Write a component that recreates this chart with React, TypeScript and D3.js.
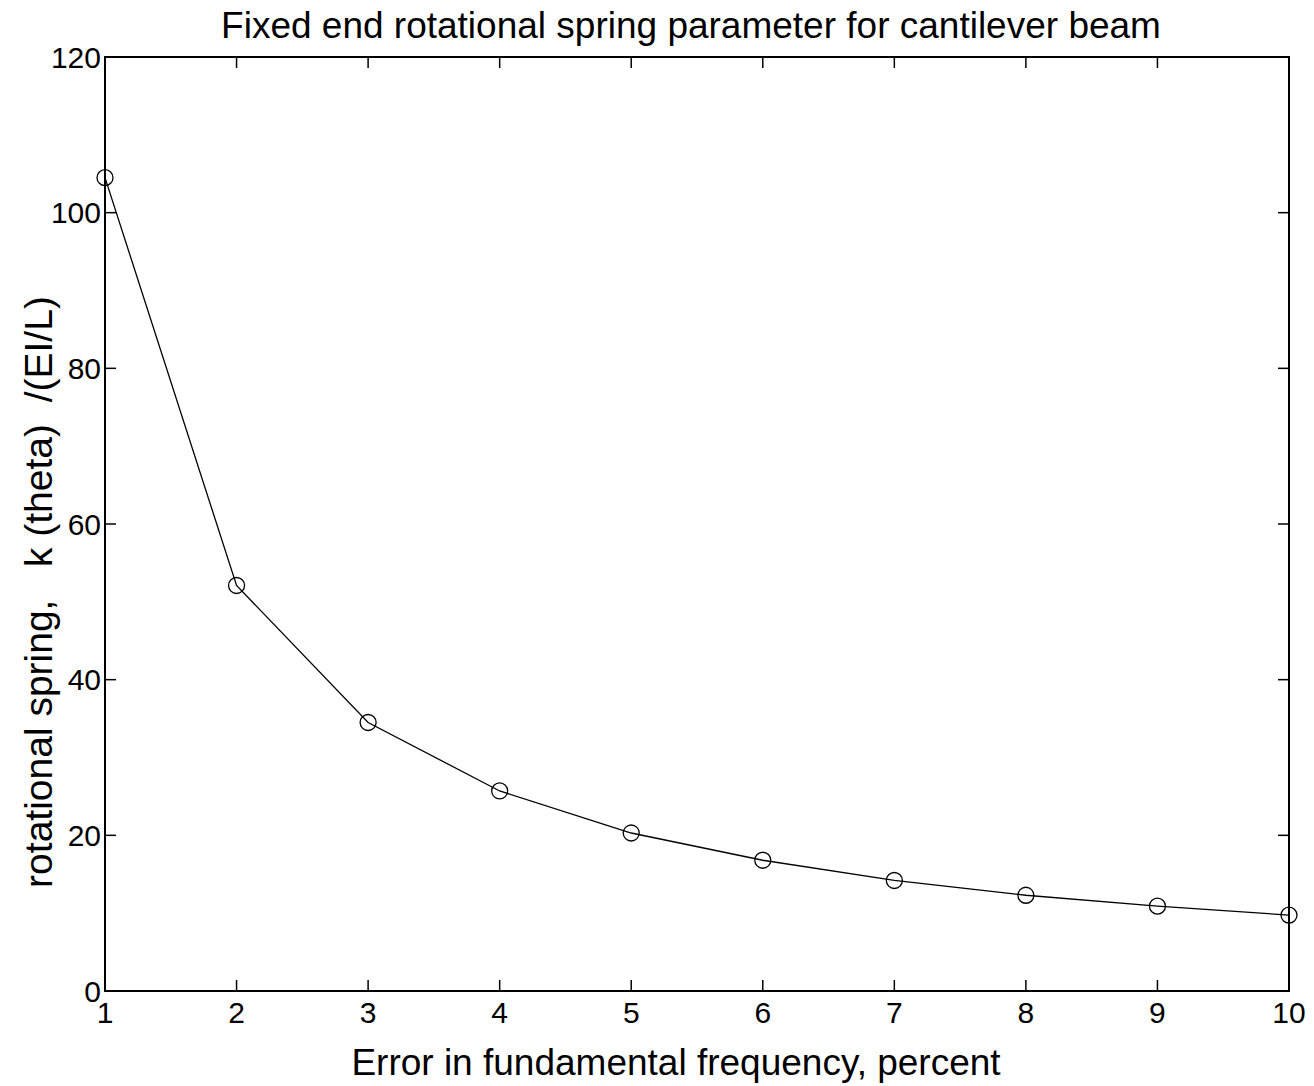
import * as d3 from "d3";
import { useEffect, useRef } from "react";

const errorPct = [1, 2, 3, 4, 5, 6, 7, 8, 9, 10];
const springK = [104.5, 52.1, 34.5, 25.7, 20.3, 16.8, 14.2, 12.3, 10.9, 9.75];
const xTicks = [1, 2, 3, 4, 5, 6, 7, 8, 9, 10];
const yTicks = [0, 20, 40, 60, 80, 100, 120];

export default function App() {
  const svgRef = useRef<SVGSVGElement | null>(null);

  useEffect(() => {
    if (!svgRef.current) return;
    const width = 1314;
    const height = 1086;
    const m = { left: 105, right: 1289, top: 57, bottom: 991 };

    const x = d3.scaleLinear().domain([1, 10]).range([m.left, m.right]);
    const y = d3.scaleLinear().domain([0, 120]).range([m.bottom, m.top]);

    const svg = d3.select(svgRef.current);
    svg.selectAll("*").remove();
    svg.attr("width", width).attr("height", height);
    svg.append("rect").attr("width", width).attr("height", height).attr("fill", "#fff");

    const font = "'Liberation Sans', Arial, sans-serif";
    const g = svg.append("g").attr("font-family", font).attr("fill", "#000");

    // box
    g.append("rect")
      .attr("x", m.left)
      .attr("y", m.top)
      .attr("width", m.right - m.left)
      .attr("height", m.bottom - m.top)
      .attr("fill", "none")
      .attr("stroke", "#000")
      .attr("stroke-width", 2);

    const tl = 11;
    // x ticks (bottom + top, inward)
    xTicks.forEach((t) => {
      const px = x(t);
      g.append("line").attr("x1", px).attr("x2", px).attr("y1", m.bottom).attr("y2", m.bottom - tl).attr("stroke", "#000").attr("stroke-width", 1.5);
      g.append("line").attr("x1", px).attr("x2", px).attr("y1", m.top).attr("y2", m.top + tl).attr("stroke", "#000").attr("stroke-width", 1.5);
      g.append("text").attr("x", px).attr("y", 1023).attr("text-anchor", "middle").attr("font-size", 30).text(t);
    });
    // y ticks (left + right, inward)
    yTicks.forEach((t) => {
      const py = y(t);
      g.append("line").attr("x1", m.left).attr("x2", m.left + tl).attr("y1", py).attr("y2", py).attr("stroke", "#000").attr("stroke-width", 1.5);
      g.append("line").attr("x1", m.right).attr("x2", m.right - tl).attr("y1", py).attr("y2", py).attr("stroke", "#000").attr("stroke-width", 1.5);
      g.append("text").attr("x", 101).attr("y", py + 10.5).attr("text-anchor", "end").attr("font-size", 30).text(t);
    });

    // series
    const pts = errorPct.map((e, i) => [e, springK[i]] as [number, number]);
    const line = d3.line<[number, number]>().x((d) => x(d[0])).y((d) => y(d[1]));
    g.append("path").attr("d", line(pts)).attr("fill", "none").attr("stroke", "#000").attr("stroke-width", 1.3);
    g.selectAll("circle.m")
      .data(pts)
      .enter()
      .append("circle")
      .attr("class", "m")
      .attr("cx", (d) => x(d[0]))
      .attr("cy", (d) => y(d[1]))
      .attr("r", 8)
      .attr("fill", "none")
      .attr("stroke", "#000")
      .attr("stroke-width", 1.3);

    // labels
    g.append("text").attr("x", 691).attr("y", 38).attr("text-anchor", "middle").attr("font-size", 37)
      .text("Fixed end rotational spring parameter for cantilever beam");
    g.append("text").attr("x", 676).attr("y", 1075).attr("text-anchor", "middle").attr("font-size", 37)
      .text("Error in fundamental frequency, percent");
    g.append("text")
      .attr("transform", "translate(52,592) rotate(-90)")
      .attr("text-anchor", "middle")
      .attr("font-size", 39)
      .style("white-space", "pre")
      .text("rotational spring,   k (theta)  /(EI/L)");
  }, []);

  return (
    <div style={{ position: "absolute", left: 0, top: 0 }}>
      <svg ref={svgRef} style={{ display: "block" }} />
    </div>
  );
}
